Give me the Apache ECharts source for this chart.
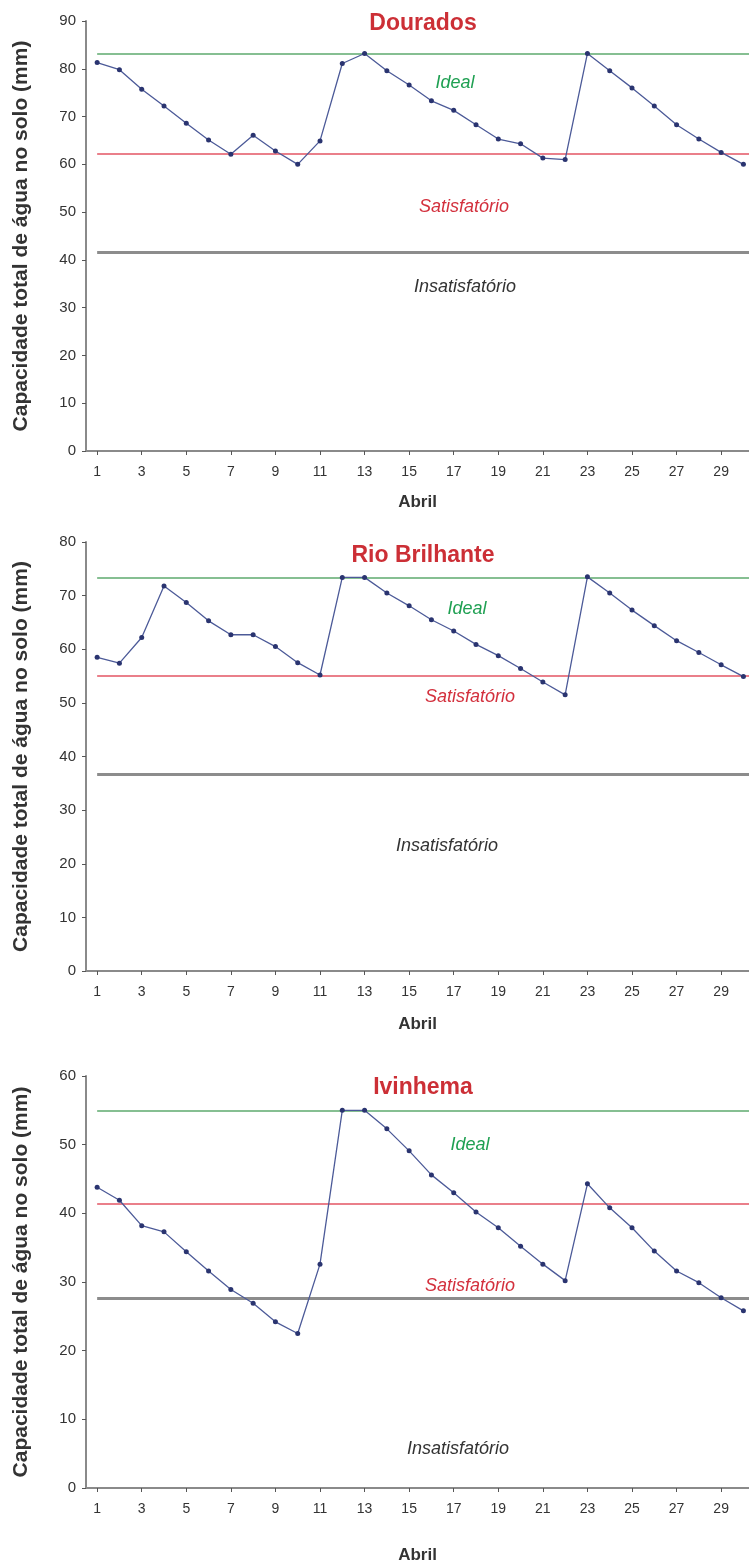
<!DOCTYPE html>
<html>
<head>
<meta charset="utf-8">
<script src="https://cdn.jsdelivr.net/npm/echarts@6/dist/echarts.min.js"></script>
<style>
  html, body { margin: 0; padding: 0; background: #fff; }
  #chart { width: 749px; height: 1567px; }
</style>
</head>
<body>
<div id="chart"></div>
<script>
const days = [1, 2, 3, 4, 5, 6, 7, 8, 9, 10, 11, 12, 13, 14, 15, 16, 17, 18, 19, 20, 21, 22, 23, 24, 25, 26, 27, 28, 29, 30];
const dayLabels = [1, 3, 5, 7, 9, 11, 13, 15, 17, 19, 21, 23, 25, 27, 29];

const stations = ['Dourados', 'Rio Brilhante', 'Ivinhema'];

const douradosValues = [81.3, 79.8, 75.7, 72.2, 68.6, 65.1, 62.1, 66.1, 62.8, 60.0, 64.9, 81.1, 83.2, 79.6, 76.6,
  73.3, 71.3, 68.3, 65.3, 64.3, 61.3, 61.0, 83.2, 79.6, 76.0, 72.2, 68.3, 65.3, 62.5, 60.0];
const rioBrilhanteValues = [58.5, 57.4, 62.2, 71.8, 68.7, 65.3, 62.7, 62.7, 60.5, 57.5, 55.2, 73.4, 73.4, 70.5, 68.1,
  65.5, 63.4, 60.9, 58.8, 56.4, 53.9, 51.5, 73.5, 70.5, 67.3, 64.4, 61.6, 59.4, 57.1, 54.9];
const ivinhemaValues = [43.8, 41.9, 38.2, 37.3, 34.4, 31.6, 28.9, 26.9, 24.2, 22.5, 32.6, 55.0, 55.0, 52.3, 49.1,
  45.6, 43.0, 40.2, 37.9, 35.2, 32.6, 30.2, 44.3, 40.8, 37.9, 34.5, 31.6, 29.9, 27.7, 25.8];

// limites: ideal, satisfatório, insatisfatório
const douradosLimits = [83.2, 62.3, 41.7];
const rioBrilhanteLimits = [73.3, 55.0, 36.7];
const ivinhemaLimits = [55.0, 41.4, 27.7];

const yMax = [90, 80, 60];
const zoneNames = ['Ideal', 'Satisfatório', 'Insatisfatório'];

const allValues = [douradosValues, rioBrilhanteValues, ivinhemaValues];
const allLimits = [douradosLimits, rioBrilhanteLimits, ivinhemaLimits];

// layout
const grids = [
  { left: 86, right: 0, top: 21, height: 430 },
  { left: 86, right: 0, top: 542, height: 429 },
  { left: 86, right: 0, top: 1076, height: 412 }
];
const titleY = [7, 539, 1071];
const abrilGap = [43, 45, 59];
const zonePos = [
  [[455, 83], [464, 207], [465, 287]],
  [[467, 609], [470, 697], [447, 846]],
  [[470, 1145], [470, 1286], [458, 1449]]
];
const zoneColors = ['#1fa052', '#d3303d', '#333333'];
const limitColors = ['#86bf92', '#ea7f8a', '#8c8c8c'];
const limitWidths = [2, 2, 3];
const xMax = 30.25;

const font = '"Liberation Sans", Arial, sans-serif';
const axisColor = '#8a8a8a';

const chart = echarts.init(document.getElementById('chart'));

const option = {
  backgroundColor: '#fff',
  animation: false,
  title: stations.map((s, i) => ({
    text: s,
    left: 418,
    top: titleY[i],
    textAlign: 'center',
    textStyle: { color: '#cc2f36', fontSize: 23, fontWeight: 'bold', fontFamily: font }
  })),
  grid: grids,
  xAxis: grids.map((g, i) => ({
    type: 'value',
    gridIndex: i,
    min: 0.5,
    max: xMax,
    name: 'Abril',
    nameLocation: 'middle',
    nameGap: abrilGap[i],
    nameTextStyle: { fontSize: 17, fontWeight: 'bold', color: '#333', fontFamily: font },
    axisLine: { lineStyle: { color: axisColor, width: 2 } },
    axisTick: { customValues: dayLabels, length: 4, lineStyle: { color: '#555' } },
    axisLabel: { customValues: dayLabels, color: '#333', fontSize: 14, margin: 14, fontFamily: font },
    splitLine: { show: false }
  })),
  yAxis: grids.map((g, i) => ({
    type: 'value',
    gridIndex: i,
    min: 0,
    max: yMax[i],
    interval: 10,
    name: 'Capacidade total de água no solo (mm)',
    nameLocation: 'middle',
    nameGap: 54,
    nameTextStyle: { fontSize: 21, fontWeight: 'bold', color: '#333', fontFamily: font },
    axisLine: { show: true, lineStyle: { color: axisColor, width: 2 } },
    axisTick: { show: true, length: 4, lineStyle: { color: '#555' } },
    axisLabel: { color: '#333', fontSize: 15, margin: 10, fontFamily: font },
    splitLine: { show: false }
  })),
  series: allValues.map((vals, i) => ({
    type: 'line',
    xAxisIndex: i,
    yAxisIndex: i,
    data: days.map((d, j) => [d, vals[j]]),
    symbol: 'circle',
    symbolSize: 5,
    lineStyle: { color: '#4c5a98', width: 1.3 },
    itemStyle: { color: '#2a3470' },
    z: 3,
    markLine: {
      silent: true,
      symbol: 'none',
      label: { show: false },
      z: 1,
      data: allLimits[i].map((v, k) => [
        { coord: [1, v], lineStyle: { color: limitColors[k], width: limitWidths[k], type: 'solid' } },
        { coord: [xMax, v] }
      ])
    }
  })),
  graphic: zonePos.flatMap((chartPos, i) => chartPos.map((p, k) => ({
    type: 'text',
    x: p[0],
    y: p[1],
    style: {
      text: zoneNames[k],
      fill: zoneColors[k],
      font: 'italic 18px ' + font,
      textAlign: 'center',
      textVerticalAlign: 'middle'
    }
  })))
};

chart.setOption(option);
</script>
</body>
</html>
